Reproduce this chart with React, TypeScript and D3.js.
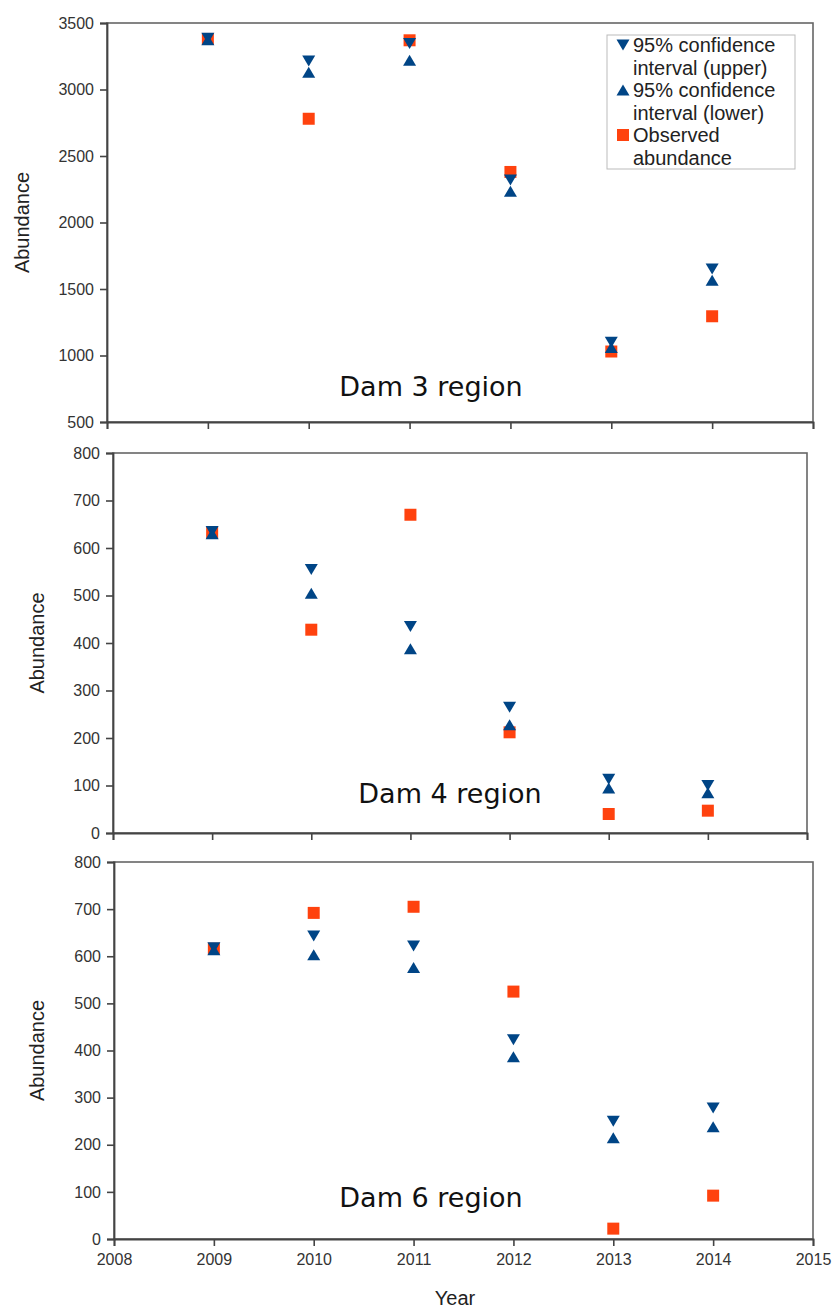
import React, { useEffect, useRef } from 'react';
import * as d3 from 'd3';

// years surveyed and the x axis ticks
const years = [2009, 2010, 2011, 2012, 2013, 2014];
const yearTicks = [2008, 2009, 2010, 2011, 2012, 2013, 2014, 2015];

// Dam 3 region
const dam3Upper = [3385, 3215, 3345, 2320, 1100, 1650];
const dam3Lower = [3375, 3130, 3220, 2235, 1060, 1565];
const dam3Observed = [3380, 2780, 3370, 2380, 1030, 1295];
const dam3Ticks = [500, 1000, 1500, 2000, 2500, 3000, 3500];

// Dam 4 region
const dam4Upper = [635, 555, 435, 265, 113, 100];
const dam4Lower = [630, 505, 388, 228, 95, 85];
const dam4Observed = [632, 428, 670, 212, 40, 47];

// Dam 6 region
const dam6Upper = [618, 643, 622, 423, 250, 278];
const dam6Lower = [614, 603, 576, 387, 215, 238];
const dam6Observed = [616, 692, 705, 525, 22, 92];
const damTicks = [0, 100, 200, 300, 400, 500, 600, 700, 800];

const legendLines = [
  ['95% confidence', 'interval (upper)'],
  ['95% confidence', 'interval (lower)'],
  ['Observed', 'abundance'],
];

const BLUE = '#004586';
const ORANGE = '#ff420e';
const AXIS = '#444';
const FONT = "'Liberation Sans', Arial, sans-serif";

const panels = [
  { title: 'Dam 3 region', upper: dam3Upper, lower: dam3Lower, observed: dam3Observed, ticks: dam3Ticks,
    left: 107, right: 813, top: 23, bottom: 422, titleX: 431, titleY: 396, yTitleX: 22, legend: true, xLabels: false },
  { title: 'Dam 4 region', upper: dam4Upper, lower: dam4Lower, observed: dam4Observed, ticks: damTicks,
    left: 113, right: 807, top: 453, bottom: 833, titleX: 450, titleY: 803, yTitleX: 37, legend: false, xLabels: false },
  { title: 'Dam 6 region', upper: dam6Upper, lower: dam6Lower, observed: dam6Observed, ticks: damTicks,
    left: 114, right: 813, top: 862, bottom: 1239, titleX: 431, titleY: 1207, yTitleX: 37, legend: false, xLabels: true },
];

// marker shapes, centred on (0,0)
const downTri = 'M-6.5,-5.5L6.5,-5.5L0,5.5Z';
const upTri = 'M-6.5,5.5L6.5,5.5L0,-5.5Z';
const square = 'M-6,-6H6V6H-6Z';

const App = () => {
  const svgRef = useRef(null);

  useEffect(() => {
    const svg = d3.select(svgRef.current);
    svg.selectAll('*').remove();

    panels.forEach(p => {
      const x = d3.scaleLinear().domain([2008, 2015]).range([p.left, p.right]);
      const y = d3.scaleLinear().domain([p.ticks[0], p.ticks[p.ticks.length - 1]]).range([p.bottom, p.top]);
      const g = svg.append('g');

      // frame
      g.append('rect')
        .attr('x', p.left).attr('y', p.top)
        .attr('width', p.right - p.left).attr('height', p.bottom - p.top)
        .attr('fill', 'white').attr('stroke', '#666').attr('stroke-width', 1.6);

      const yAxis = d3.axisLeft(y).tickValues(p.ticks).tickSize(7).tickPadding(6).tickFormat(d3.format('d'));
      const xAxis = d3.axisBottom(x).tickValues(yearTicks).tickSize(7).tickPadding(8)
        .tickFormat(p.xLabels ? d3.format('d') : () => '');

      const ya = g.append('g').attr('transform', `translate(${p.left},0)`).call(yAxis);
      const xa = g.append('g').attr('transform', `translate(0,${p.bottom})`).call(xAxis);
      [ya, xa].forEach(a => {
        a.select('.domain').attr('stroke', AXIS).attr('stroke-width', 1.8);
        a.selectAll('.tick line').attr('stroke', AXIS).attr('stroke-width', 1.6);
        a.selectAll('.tick text').attr('fill', '#333').style('font-size', '16px').style('font-family', FONT);
      });

      // y axis title
      g.append('text')
        .attr('transform', `translate(${p.yTitleX},${(p.top + p.bottom) / 2}) rotate(-90)`)
        .attr('text-anchor', 'middle').attr('dominant-baseline', 'central')
        .attr('fill', '#222').style('font-size', '20px').style('font-family', FONT)
        .text('Abundance');

      // panel title
      g.append('text')
        .attr('x', p.titleX).attr('y', p.titleY).attr('text-anchor', 'middle')
        .attr('fill', '#111').style('font-size', '27px').style('font-family', "'DejaVu Sans', sans-serif")
        .text(p.title);

      // markers
      g.selectAll('.obs').data(p.observed).enter().append('path')
        .attr('d', square).attr('fill', ORANGE)
        .attr('transform', (d, i) => `translate(${x(years[i])},${y(d)})`);
      g.selectAll('.up').data(p.upper).enter().append('path')
        .attr('d', downTri).attr('fill', BLUE)
        .attr('transform', (d, i) => `translate(${x(years[i])},${y(d)})`);
      g.selectAll('.lo').data(p.lower).enter().append('path')
        .attr('d', upTri).attr('fill', BLUE)
        .attr('transform', (d, i) => `translate(${x(years[i])},${y(d)})`);

      if (p.legend) {
        const lg = g.append('g').attr('transform', 'translate(607,35)');
        lg.append('rect').attr('width', 188).attr('height', 134)
          .attr('fill', 'white').attr('stroke', '#bbb');
        const shapes = [downTri, upTri, square];
        const colors = [BLUE, BLUE, ORANGE];
        legendLines.forEach((lines, i) => {
          const cy = 10 + i * 45;
          lg.append('path').attr('d', shapes[i]).attr('fill', colors[i])
            .attr('transform', `translate(16,${cy})`);
          lines.forEach((t, j) => {
            lg.append('text').attr('x', 26).attr('y', cy + j * 22.5)
              .attr('dominant-baseline', 'central')
              .attr('fill', '#222').style('font-size', '20px').style('font-family', FONT)
              .text(t);
          });
        });
      }
    });

    svg.append('text')
      .attr('x', 455).attr('y', 1298).attr('text-anchor', 'middle').attr('dominant-baseline', 'central')
      .attr('fill', '#222').style('font-size', '20px').style('font-family', FONT)
      .text('Year');
  }, []);

  return (
    <div style={{ position: 'absolute', left: 0, top: 0 }}>
      <svg ref={svgRef} width={835} height={1311} style={{ display: 'block', background: 'white' }}></svg>
    </div>
  );
};

export default App;
